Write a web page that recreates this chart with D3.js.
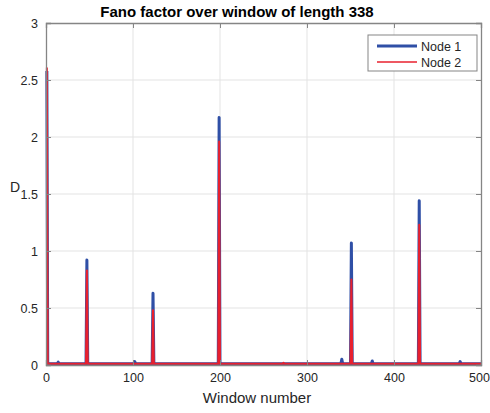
<!DOCTYPE html>
<html>
<head>
<meta charset="utf-8">
<script src="https://cdn.jsdelivr.net/npm/d3@7"></script>
<style>
  body { margin: 0; background: #fff; }
  text { font-family: "Liberation Sans", Arial, Helvetica, sans-serif; }
</style>
</head>
<body>
<div id="chart"></div>
<script>
var width = 490;
var height = 413;

// windows 1..500
var windows = d3.range(1, 501);
var xTicks = [0, 100, 200, 300, 400, 500];
var yTicks = [0, 0.5, 1, 1.5, 2, 2.5, 3];
var seriesNames = ['Node 1', 'Node 2'];

// baseline level
var node1Base = 0.012;
var node2Base = 0.01;
// [window, value] where the series leaves its baseline
var node1Peaks = [[1, 2.58], [14, 0.025], [47, 0.92], [102, 0.03], [123, 0.63], [199, 2.17],
  [340, 0.05], [351, 1.07], [375, 0.035], [429, 1.44], [476, 0.03]];
var node2Peaks = [[1, 2.61], [47, 0.83], [123, 0.48], [199, 1.96], [273, 0.02],
  [351, 0.75], [429, 1.23]];

function buildSeries(base, peaks) {
  var m = new Map(peaks);
  return windows.map(w => ({ x: w, y: m.has(w) ? m.get(w) : base }));
}
var node1 = buildSeries(node1Base, node1Peaks);
var node2 = buildSeries(node2Base, node2Peaks);

var margin = { left: 46, right: 9, top: 23, bottom: 48 };
var innerW = width - margin.left - margin.right;
var innerH = height - margin.top - margin.bottom;

var svg = d3.select('#chart')
  .append('svg')
  .attr('width', width)
  .attr('height', height);

var g = svg.append('g')
  .attr('transform', 'translate(' + margin.left + ',' + margin.top + ')');

var x = d3.scaleLinear().domain([0, 500]).range([0, innerW]);
var y = d3.scaleLinear().domain([0, 3]).range([innerH, 0]);

// grid
g.append('g').selectAll('line')
  .data(xTicks.slice(1, -1))
  .enter().append('line')
  .attr('x1', d => x(d)).attr('x2', d => x(d))
  .attr('y1', 0).attr('y2', innerH)
  .style('stroke', '#e3e3e3').style('stroke-width', 1);
g.append('g').selectAll('line')
  .data(yTicks.slice(1, -1))
  .enter().append('line')
  .attr('y1', d => y(d)).attr('y2', d => y(d))
  .attr('x1', 0).attr('x2', innerW)
  .style('stroke', '#e3e3e3').style('stroke-width', 1);

// lines
var line = d3.line().x(d => x(d.x)).y(d => y(d.y));
g.append('path').datum(node1)
  .attr('d', line)
  .style('fill', 'none').style('stroke', '#2f4fa6').style('stroke-width', 3)
  .style('stroke-linejoin', 'round');
g.append('path').datum(node2)
  .attr('d', line)
  .style('fill', 'none').style('stroke', '#e8202e').style('stroke-width', 2)
  .style('stroke-linejoin', 'round');

// axes (inward ticks, box)
var tickLen = 5;
var axisColor = '#262626';
var xAxis = g.append('g')
  .attr('transform', 'translate(0,' + innerH + ')')
  .call(d3.axisBottom(x).tickValues(xTicks).tickSize(-tickLen).tickPadding(8).tickFormat(d3.format('d')));
var xTop = g.append('g')
  .call(d3.axisTop(x).tickValues(xTicks).tickSize(-tickLen).tickFormat(''));
var yAxis = g.append('g')
  .call(d3.axisLeft(y).tickValues(yTicks).tickSize(-tickLen).tickPadding(8).tickFormat(d => d));
var yRight = g.append('g')
  .attr('transform', 'translate(' + innerW + ',0)')
  .call(d3.axisRight(y).tickValues(yTicks).tickSize(-tickLen).tickFormat(''));

[xAxis, xTop, yAxis, yRight].forEach(a => {
  a.select('.domain').style('stroke', '#858585').style('stroke-width', 1.3);
  a.selectAll('.tick line').style('stroke', '#858585');
  a.selectAll('.tick text').style('font-size', '12.5px').style('fill', axisColor);
});
// keep the last x label inside the window
xAxis.selectAll('.tick text').filter(d => d === 500).attr('dx', '-2px');

// title and labels
svg.append('text')
  .attr('x', 237)
  .attr('y', 17)
  .attr('text-anchor', 'middle')
  .style('font-size', '15px').style('font-weight', 'bold').style('fill', '#000')
  .text('Fano factor over window of length 338');

svg.append('text')
  .attr('x', 257)
  .attr('y', 403)
  .attr('text-anchor', 'middle')
  .style('font-size', '15px').style('fill', axisColor)
  .text('Window number');

svg.append('text')
  .attr('x', 15)
  .attr('y', 192)
  .attr('text-anchor', 'middle')
  .style('font-size', '14px').style('fill', axisColor)
  .text('D');

// legend
var legend = svg.append('g').attr('transform', 'translate(368,35)');
legend.append('rect')
  .attr('width', 109).attr('height', 36)
  .style('fill', '#fff').style('stroke', '#858585').style('stroke-width', 1);
var legendItems = legend.selectAll('.item')
  .data(seriesNames)
  .enter().append('g')
  .attr('transform', (d, i) => 'translate(0,' + (11 + i * 16) + ')');
legendItems.append('line')
  .attr('x1', 9).attr('x2', 49)
  .style('stroke', (d, i) => i === 0 ? '#2f4fa6' : '#e8202e')
  .style('stroke-width', (d, i) => i === 0 ? 3 : 1.5);
legendItems.append('text')
  .attr('x', 53).attr('y', 4.5)
  .style('font-size', '12.5px').style('fill', axisColor)
  .text(d => d);
</script>
</body>
</html>
